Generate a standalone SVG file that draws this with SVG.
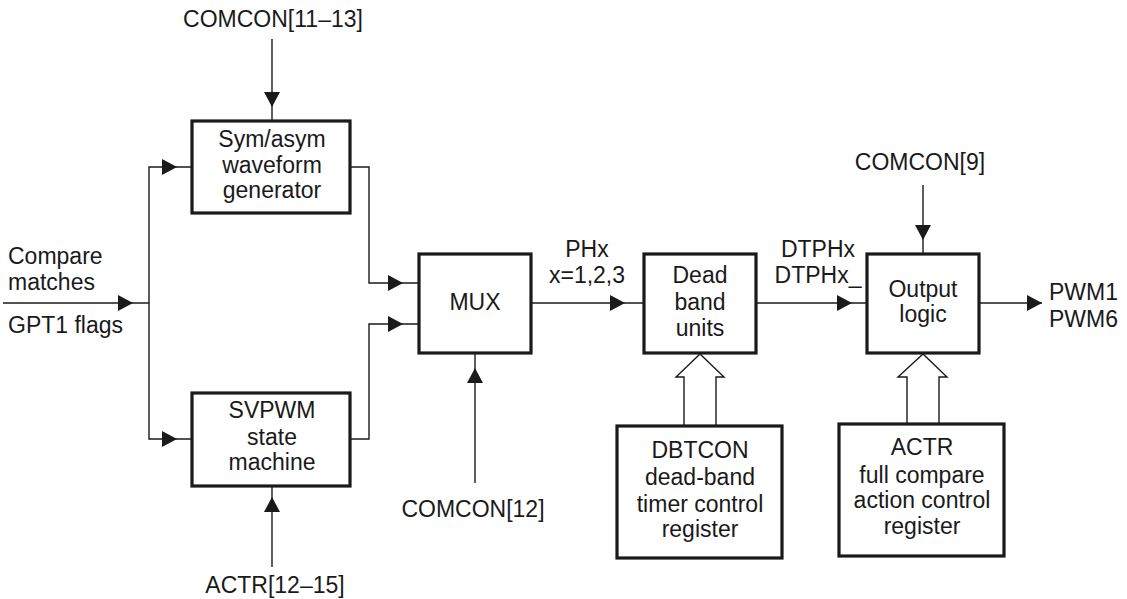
<svg xmlns="http://www.w3.org/2000/svg" width="1127" height="599" viewBox="0 0 1127 599">
<style>
text{font-family:"Liberation Sans",Arial,sans-serif;font-size:23px;fill:#1a1a1a}
.m{text-anchor:middle}
.box{fill:#fff;stroke:#1a1a1a;stroke-width:3.2}
.ln{fill:none;stroke:#1a1a1a;stroke-width:1.4}
.hol{fill:#fff;stroke:#1a1a1a;stroke-width:1.4}
.ah{fill:#1a1a1a}
</style>
<defs>
<path id="ah" d="M0,0 L-15,-8 L-15,8 Z"/>
</defs>
<g id="connectors">
<path class="ln" d="M272,39 V121"/>
<path class="ln" d="M3,303 H149"/>
<path class="ln" d="M192,167 H149 V439 H192"/>
<path class="ln" d="M272,486 V567"/>
<path class="ln" d="M350,167 H369 V283 H419"/>
<path class="ln" d="M350,439 H369 V324 H419"/>
<path class="ln" d="M475,353 V483"/>
<path class="ln" d="M531,303 H644"/>
<path class="ln" d="M756,303 H867"/>
<path class="ln" d="M923,185 V254"/>
<path class="ln" d="M979,303 H1042"/>
<use href="#ah" class="ah" transform="translate(272,107) rotate(90)"/>
<use href="#ah" class="ah" transform="translate(177,167)"/>
<use href="#ah" class="ah" transform="translate(177,439)"/>
<use href="#ah" class="ah" transform="translate(133,303)"/>
<use href="#ah" class="ah" transform="translate(272,497) rotate(-90)"/>
<use href="#ah" class="ah" transform="translate(403,283)"/>
<use href="#ah" class="ah" transform="translate(403,324)"/>
<use href="#ah" class="ah" transform="translate(475,368) rotate(-90)"/>
<use href="#ah" class="ah" transform="translate(625,303)"/>
<use href="#ah" class="ah" transform="translate(852,303)"/>
<use href="#ah" class="ah" transform="translate(923,240) rotate(90)"/>
<use href="#ah" class="ah" transform="translate(1042,303)"/>
<path class="hol" d="M684,426 V377 H676 L700,354 L724,377 H716 V426"/>
<path class="hol" d="M907,424 V377 H898 L923,354 L947,377 H939 V424"/>
</g>
<g id="labels">
<text class="m" x="273" y="27">COMCON[11–13]</text>
<text x="8" y="264">Compare</text>
<text x="8" y="290">matches</text>
<text x="8" y="333">GPT1 flags</text>
<text class="m" x="275" y="593">ACTR[12–15]</text>
<text class="m" x="473" y="517">COMCON[12]</text>
<text class="m" x="587" y="257">PHx</text>
<text class="m" x="587" y="283">x=1,2,3</text>
<text class="m" x="818" y="257">DTPHx</text>
<text class="m" x="818" y="283">DTPHx_</text>
<text class="m" x="920" y="170">COMCON[9]</text>
<text x="1049" y="300">PWM1</text>
<text x="1049" y="327">PWM6</text>
</g>
<g id="symasym">
<rect class="box" x="192" y="121" width="158" height="92"/>
<text class="m" x="272" y="147">Sym/asym</text>
<text class="m" x="272" y="173">waveform</text>
<text class="m" x="272" y="198">generator</text>
</g>
<g id="svpwm">
<rect class="box" x="192" y="393" width="158" height="93"/>
<text class="m" x="272" y="418">SVPWM</text>
<text class="m" x="272" y="445">state</text>
<text class="m" x="272" y="470">machine</text>
</g>
<g id="mux">
<rect class="box" x="419" y="254" width="112" height="99"/>
<text class="m" x="475" y="310">MUX</text>
</g>
<g id="deadband">
<rect class="box" x="644" y="254" width="112" height="99"/>
<text class="m" x="700" y="283">Dead</text>
<text class="m" x="700" y="310">band</text>
<text class="m" x="700" y="336">units</text>
</g>
<g id="dbtcon">
<rect class="box" x="617" y="426" width="165" height="132"/>
<text class="m" x="700" y="458">DBTCON</text>
<text class="m" x="700" y="485">dead-band</text>
<text class="m" x="700" y="512">timer control</text>
<text class="m" x="700" y="537">register</text>
</g>
<g id="outputlogic">
<rect class="box" x="867" y="254" width="112" height="99"/>
<text class="m" x="923" y="297">Output</text>
<text class="m" x="923" y="322">logic</text>
</g>
<g id="actr">
<rect class="box" x="839" y="424" width="165" height="132"/>
<text class="m" x="922" y="455">ACTR</text>
<text class="m" x="922" y="483">full compare</text>
<text class="m" x="922" y="508">action control</text>
<text class="m" x="922" y="534">register</text>
</g>
</svg>
